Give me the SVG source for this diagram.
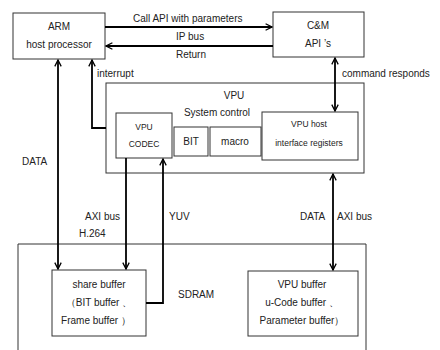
<svg xmlns="http://www.w3.org/2000/svg" width="440" height="350" viewBox="0 0 440 350">
<defs>
<marker id="ah" viewBox="0 0 10 10" refX="9" refY="5" markerWidth="8" markerHeight="8" markerUnits="userSpaceOnUse" orient="auto-start-reverse">
<path d="M1,1 L9,5 L1,9" fill="none" stroke="#000" stroke-width="1.6"/>
</marker>
<style>
.box{fill:#fff;stroke:#333;stroke-width:1}
.t{font-family:"Liberation Sans",Arial,sans-serif;font-size:10px;fill:#222}
.s{font-family:"Liberation Sans",Arial,sans-serif;font-size:8.5px;fill:#222}
.c{text-anchor:middle}
.w{fill:none;stroke:#000;stroke-width:1.8}
</style>
</defs>
<rect width="440" height="350" fill="#fff"/>
<g id="sdram">
<path d="M18,352 L18,244 L366,244 L366,352" fill="none" stroke="#333" stroke-width="1"/>
<text class="t" x="178" y="298">SDRAM</text>
</g>
<g id="vpu">
<rect class="box" x="106" y="83" width="258" height="90"/>
<text class="t c" x="234" y="99">VPU</text>
<text class="t c" x="217" y="116">System control</text>
</g>
<g id="arm">
<rect class="box" x="13" y="13" width="92" height="46"/>
<text class="t c" x="59" y="30">ARM</text>
<text class="t c" x="59" y="48">host processor</text>
</g>
<g id="cm">
<rect class="box" x="273" y="12" width="91" height="45"/>
<text class="t c" x="318" y="29">C&amp;M</text>
<text class="t c" x="318" y="47">API ’s</text>
</g>
<g id="codec">
<rect class="box" x="116" y="113" width="56" height="45"/>
<text class="s c" x="144" y="130">VPU</text>
<text class="s c" x="144" y="147">CODEC</text>
</g>
<g id="bit">
<rect class="box" x="174" y="127" width="34" height="29"/>
<text class="t c" x="191" y="145">BIT</text>
</g>
<g id="macro">
<rect class="box" x="210" y="127" width="51" height="29"/>
<text class="t c" x="235" y="145">macro</text>
</g>
<g id="hostreg">
<rect class="box" x="262" y="112" width="96" height="48"/>
<text class="s c" x="309" y="127">VPU host</text>
<text class="s c" x="309" y="146">interface registers</text>
</g>
<g id="share">
<rect class="box" x="52" y="270" width="94" height="66"/>
<text class="t c" x="99" y="288">share buffer</text>
<text class="t c" x="99" y="306">（BIT buffer 、</text>
<text class="t c" x="96" y="324">Frame buffer ）</text>
</g>
<g id="vpubuf">
<rect class="box" x="248" y="271" width="110" height="65"/>
<text class="t c" x="302" y="288">VPU buffer</text>
<text class="t c" x="302" y="306">u-Code buffer 、</text>
<text class="t c" x="302" y="324">Parameter buffer）</text>
</g>
<g id="connectors">
<line class="w" x1="105" y1="27" x2="272" y2="27" marker-end="url(#ah)"/>
<line class="w" x1="273" y1="46" x2="106" y2="46" marker-end="url(#ah)"/>
<text class="t" x="133" y="22">Call API with parameters</text>
<text class="t" x="176" y="40">IP bus</text>
<text class="t" x="176" y="58">Return</text>
<polyline class="w" points="106,128 92,128 92,60" marker-end="url(#ah)"/>
<text class="t" x="97" y="77">interrupt</text>
<line class="w" x1="58" y1="60" x2="58" y2="269" marker-start="url(#ah)" marker-end="url(#ah)"/>
<text class="t" x="22" y="165">DATA</text>
<line class="w" x1="335" y1="58" x2="335" y2="111" marker-start="url(#ah)" marker-end="url(#ah)"/>
<text class="t" x="342" y="77">command responds</text>
<line class="w" x1="126" y1="158" x2="126" y2="269" marker-end="url(#ah)"/>
<polyline class="w" points="146,303 163,303 163,159" marker-end="url(#ah)"/>
<text class="t" x="85" y="220">AXI bus</text>
<text class="t" x="79" y="237">H.264</text>
<text class="t" x="169" y="220">YUV</text>
<line class="w" x1="333" y1="174" x2="333" y2="270" marker-start="url(#ah)" marker-end="url(#ah)"/>
<text class="t" x="300" y="220">DATA</text>
<text class="t" x="337" y="220">AXI bus</text>
</g>
</svg>
